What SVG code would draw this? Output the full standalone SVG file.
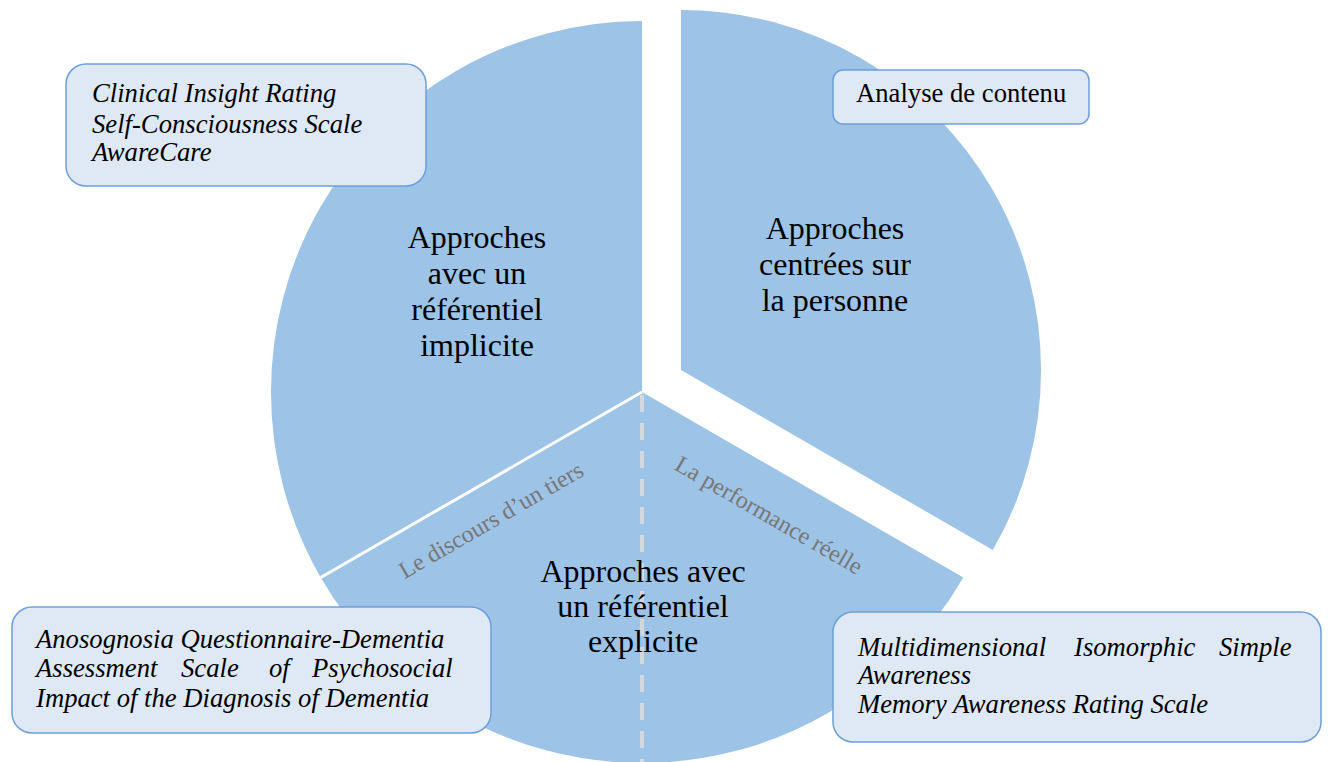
<svg xmlns="http://www.w3.org/2000/svg" width="1328" height="762" viewBox="0 0 1328 762">
<style>
.slice{fill:#9dc3e6;stroke:none}
.box{fill:#dee9f5;stroke:#6d9eda;stroke-width:1.5}
text{font-family:'Liberation Serif','Times New Roman',Tinos,'Noto Serif','DejaVu Serif',serif}
.lbl{font-size:32px;fill:#000;text-anchor:middle}
.it{font-size:26.67px;font-style:italic;fill:#000}
.rg{font-size:26.67px;fill:#000}
.gr{font-size:24px;fill:#777;text-anchor:middle}
</style>
<rect width="1328" height="762" fill="#fff"/>
<g id="slice-implicite">
<path class="slice" d="M642,392 L642,21 A371,371 0 0 0 320.7,577.5 Z"/>
<text class="lbl"><tspan x="477" y="248">Approches</tspan><tspan x="477" y="284">avec un</tspan><tspan x="477" y="320">référentiel</tspan><tspan x="477" y="356">implicite</tspan></text>
</g>
<g id="slice-explicite">
<path class="slice" d="M642,392 L320.7,577.5 A371,371 0 0 0 963.3,577.5 Z"/>
</g>
<g id="slice-personne">
<path class="slice" d="M681,370 L681,10 A360,360 0 0 1 992.8,550 Z"/>
<text class="lbl"><tspan x="835" y="239">Approches</tspan><tspan x="835" y="275">centrées sur</tspan><tspan x="835" y="311">la personne</tspan></text>
</g>
<g id="connectors">
<line x1="642" y1="392" x2="320.7" y2="577.5" stroke="#fff" stroke-width="3"/>
<line x1="642" y1="395" x2="642" y2="762" stroke="#d4d8de" stroke-width="4" stroke-dasharray="17 11"/>
</g>
<g id="label-tiers">
<text class="gr" transform="translate(495,527) rotate(-30)">Le discours d’un tiers</text>
</g>
<g id="label-performance">
<text class="gr" transform="translate(765,522) rotate(30)">La performance réelle</text>
</g>
<g id="label-explicite">
<text class="lbl"><tspan x="643" y="582">Approches avec</tspan><tspan x="643" y="617">un référentiel</tspan><tspan x="643" y="652">explicite</tspan></text>
</g>
<g id="box-implicite">
<rect class="box" x="66" y="64" width="360" height="122" rx="20"/>
<text class="it" x="92" y="102">Clinical Insight Rating</text>
<text class="it" x="92" y="133">Self-Consciousness Scale</text>
<text class="it" x="92" y="161">AwareCare</text>
</g>
<g id="box-personne">
<rect class="box" x="833" y="70" width="256" height="54" rx="10"/>
<text class="rg" x="856" y="102">Analyse de contenu</text>
</g>
<g id="box-tiers">
<rect class="box" x="12" y="607" width="479" height="126" rx="20"/>
<text class="it" x="36" y="648">Anosognosia Questionnaire-Dementia</text>
<text class="it" y="677"><tspan x="36">Assessment</tspan><tspan x="181">Scale</tspan><tspan x="269">of</tspan><tspan x="312">Psychosocial</tspan></text>
<text class="it" x="36" y="707">Impact of the Diagnosis of Dementia</text>
</g>
<g id="box-performance">
<rect class="box" x="833" y="612" width="488" height="130" rx="20"/>
<text class="it" y="656"><tspan x="858">Multidimensional</tspan><tspan x="1074">Isomorphic</tspan><tspan x="1219">Simple</tspan></text>
<text class="it" x="858" y="684">Awareness</text>
<text class="it" x="858" y="713">Memory Awareness Rating Scale</text>
</g>
</svg>
